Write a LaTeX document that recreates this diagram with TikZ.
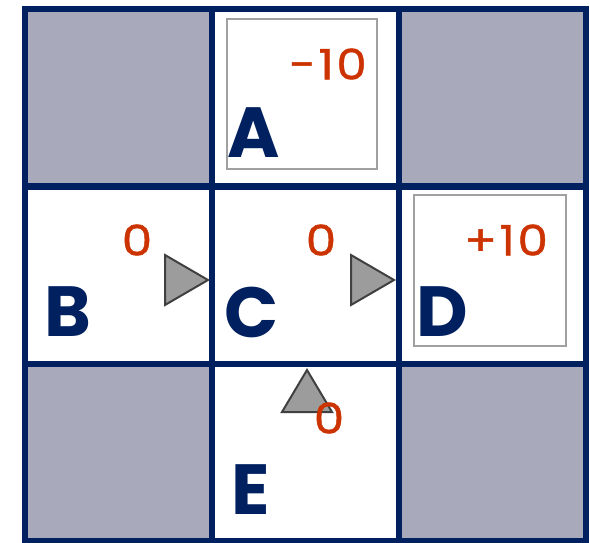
\documentclass[tikz,border=0pt]{standalone}
\usepackage{fontspec}
\setmainfont{Poppins}
\newfontfamily\rewardfont[FakeStretch=1.15, FakeBold=1, LetterSpace=6]{Poppins}
\usetikzlibrary{positioning}
\definecolor{navy}{HTML}{002060}
\definecolor{wallgray}{HTML}{A8AABC}
\definecolor{rewardred}{HTML}{CC3300}
\definecolor{boxgray}{HTML}{A0A0A0}
\definecolor{arrowgray}{HTML}{9C9C9C}
\definecolor{arrowedge}{HTML}{404040}

\begin{document}
\begin{tikzpicture}[
    x=1pt, y=-1pt,
    cell/.style={rectangle, draw=navy, line width=6pt, fill=white,
                 minimum width=187pt, minimum height=177pt,
                 inner sep=0pt, outer sep=0pt},
    wallcell/.style={cell, fill=wallgray},
    endbox/.style={rectangle, draw=boxgray, line width=2pt,
                   minimum width=150pt, minimum height=150pt, inner sep=0pt},
    statelbl/.style={text=navy, font=\fontsize{71}{71}\selectfont\bfseries,
                     inner sep=0pt},
    rewardlbl/.style={text=rewardred, font=\rewardfont\fontsize{42}{42}\selectfont,
                      inner sep=0pt},
    pointer/.style={fill=arrowgray, draw=arrowedge, line width=2pt,
                    line join=miter}
  ]
  \useasboundingbox (0,0) rectangle (590,542);

  % Grid of cells.
  \node[wallcell] (nw) at (118.5,97.5) {};
  \node[cell]     (cA) at (305.5,97.5) {};
  \node[wallcell] (ne) at (492,97.5)   {};
  \node[cell]     (cB) at (118.5,275)  {};
  \node[cell]     (cC) at (305.5,275)  {};
  \node[cell]     (cD) at (492,275)    {};
  \node[wallcell] (sw) at (118.5,452)  {};
  \node[cell]     (cE) at (305.5,452)  {};
  \node[wallcell] (se) at (492,452)    {};

  % Terminal states.
  \node[endbox] (boxA) at (302,94) {};
  \node[endbox, minimum width=152pt, minimum height=151pt] (boxD) at (490,270.5) {};

  % State names.
  \node[statelbl] (A) at (254,133) {A};
  \node[statelbl] (B) at (68,312)  {B};
  \node[statelbl] (C) at (252,312) {C};
  \node[statelbl] (D) at (442,312) {D};
  \node[statelbl] (E) at (251,490) {E};

  % Policy arrows.
  \draw[pointer] (165,255) -- (165,305) -- (208,280) -- cycle;
  \draw[pointer] (351,255) -- (351,305) -- (394,280) -- cycle;
  \draw[pointer] (282,412) -- (332,412) -- (307,370) -- cycle;

  % Rewards.
  \node[rewardlbl] (rA) at (328,64)  {-10};
  \node[rewardlbl] (rB) at (137,240) {0};
  \node[rewardlbl] (rC) at (321,240) {0};
  \node[rewardlbl] (rD) at (506,240) {+10};
  \node[rewardlbl] (rE) at (329,418) {0};

\end{tikzpicture}
\end{document}
